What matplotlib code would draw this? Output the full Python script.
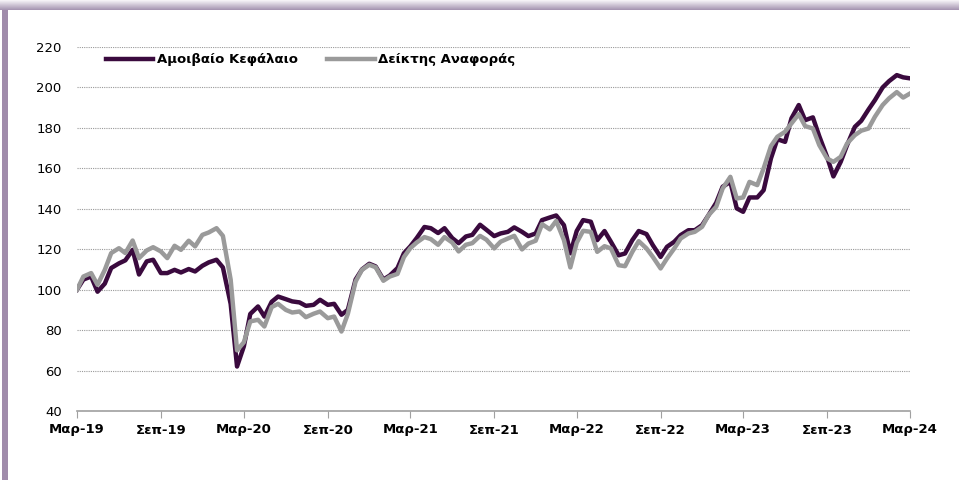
import numpy as np
import pandas as pd
import matplotlib
matplotlib.use("Agg")
import matplotlib.pyplot as plt
from matplotlib.patches import Rectangle

# semi-monthly observations, Mar 2019 -> Mar 2024
dates = pd.date_range("2019-03-01", periods=121, freq="SMS")

fund = [
    100, 105, 106.5, 99, 103, 110.7, 113, 114.5, 119.7, 107.5,
    114, 114.8, 108.2, 108.2, 109.8, 108.5, 110.2, 109, 111.8, 113.5,
    114.8, 111, 93, 62, 72, 88, 91.7, 86.7, 94, 96.6,
    95.3, 94.2, 93.7, 92, 92.5, 95, 92.5, 93, 87.6, 90,
    105, 110, 112.8, 111.5, 105, 107, 110.7, 118, 121.4, 125.5,
    131, 130.4, 128, 130.4, 125.5, 123, 126.3, 127.1, 132.1, 129.6,
    126.5, 127.8, 128.6, 130.8, 128.6, 126.5, 127.8, 134.4, 135.7, 136.7,
    131.9, 118, 129, 134.4, 133.6, 124.5, 129, 123.7, 117, 117.9,
    124.5, 129, 127.5, 122, 116.2, 121.2, 123.7, 127, 129.4, 129.4,
    131.9, 136.8, 143, 150.9, 153.3, 140.2, 138.5, 145.6, 145.6, 149.2,
    164.9, 174.4, 173.1, 184.7, 191.3, 183.8, 185.2, 175.9, 165.7, 156,
    163.2, 171.5, 180.5, 183.5, 189.1, 193.7, 200, 203.1, 206.1, 205,
    204.5,
]

benchmark = [
    100, 106.5, 108.2, 102.4, 109.8, 118.1, 120.5, 118.1, 124.3, 115.6,
    119.4, 121, 118.9, 115.6, 121.7, 119.7, 124.2, 121.4, 127.1, 128.3,
    130.4, 126.6, 105, 70, 74, 84.3, 85.1, 81.8, 91.4, 93,
    90, 88.7, 89.2, 86.4, 88.1, 89.2, 85.9, 86.7, 79.3, 88,
    104, 109.8, 112.3, 111.1, 104.4, 106.5, 107.8, 116.1, 120.5, 123.3,
    126, 125, 122.2, 126, 123.3, 118.9, 122.2, 123, 126.6, 124.7,
    120.4, 123.7, 125.3, 126.6, 119.9, 122.8, 124.2, 132.4, 129.8, 134,
    124.5, 111, 123.2, 129.1, 128.6, 118.7, 121.5, 120.4, 112.1, 111.6,
    118.7, 124, 120.4, 116.2, 110.5, 115.4, 120.4, 125.3, 127.8, 128.6,
    131.1, 136.8, 141, 150, 155.8, 145.1, 145.6, 153.3, 151.7, 160,
    171, 175.6, 178.1, 182.2, 186.8, 180.9, 179.7, 171.5, 164.9, 163.2,
    165.7, 172.3, 176.4, 178.6, 179.7, 185.5, 191.3, 194.6, 197.7, 195,
    197,
]

tick_dates = pd.date_range("2019-03-01", "2024-03-01", freq="6MS")
tick_labels = ["Μαρ-19", "Σεπ-19", "Μαρ-20", "Σεπ-20", "Μαρ-21", "Σεπ-21",
               "Μαρ-22", "Σεπ-22", "Μαρ-23", "Σεπ-23", "Μαρ-24"]
series_names = ["Αμοιβαίο Κεφάλαιο", "Δείκτης Αναφοράς"]

plt.rcParams["font.family"] = ["DejaVu Sans"]

fig = plt.figure(figsize=(9.59, 4.8), dpi=100)
ax = fig.add_axes([77 / 959, 1 - 411 / 480, 833 / 959, 364 / 480])

# frame decoration: shaded top band and left band
for i in range(10):
    c = np.array([0.96, 0.95, 0.965]) * (1 - i / 10) + np.array([0.62, 0.55, 0.67]) * (i / 10)
    fig.add_artist(Rectangle((0, 1 - (i + 1) / 480), 1, 1 / 480,
                             transform=fig.transFigure, color=c, lw=0, zorder=0))
fig.add_artist(Rectangle((2 / 959, 0), 6 / 959, 1 - 10 / 480,
                         transform=fig.transFigure, color="#a08cab", lw=0, zorder=0))

ax.plot(dates, fund, color="#3a0a3e", lw=3.2, label=series_names[0], zorder=3)
ax.plot(dates, benchmark, color="#9a9a9a", lw=3.2, label=series_names[1], zorder=4)

ax.set_xlim(tick_dates[0], tick_dates[-1])
ax.set_ylim(40, 220)
ax.set_yticks(range(40, 221, 20))
ax.set_xticks(tick_dates)
ax.set_xticklabels(tick_labels, fontsize=9.5, fontweight="bold")
ax.tick_params(axis="y", length=0, pad=11, labelsize=9.5)
ax.tick_params(axis="x", length=5, color="#a0a0a0", pad=4)

ax.grid(axis="y", linestyle=(0, (1, 1)), color="#999999", lw=0.8)
ax.set_axisbelow(True)
for s in ["top", "right", "left"]:
    ax.spines[s].set_visible(False)
ax.spines["bottom"].set_color("#a0a0a0")
ax.spines["bottom"].set_linewidth(1.2)

leg = ax.legend(loc="upper left", ncol=2, frameon=False, handlelength=3.6,
                columnspacing=2.2, handletextpad=0.3,
                bbox_to_anchor=(0.02, 1.015),
                prop={"weight": "bold", "size": 9.5})

fig.savefig("out.png", dpi=100)
